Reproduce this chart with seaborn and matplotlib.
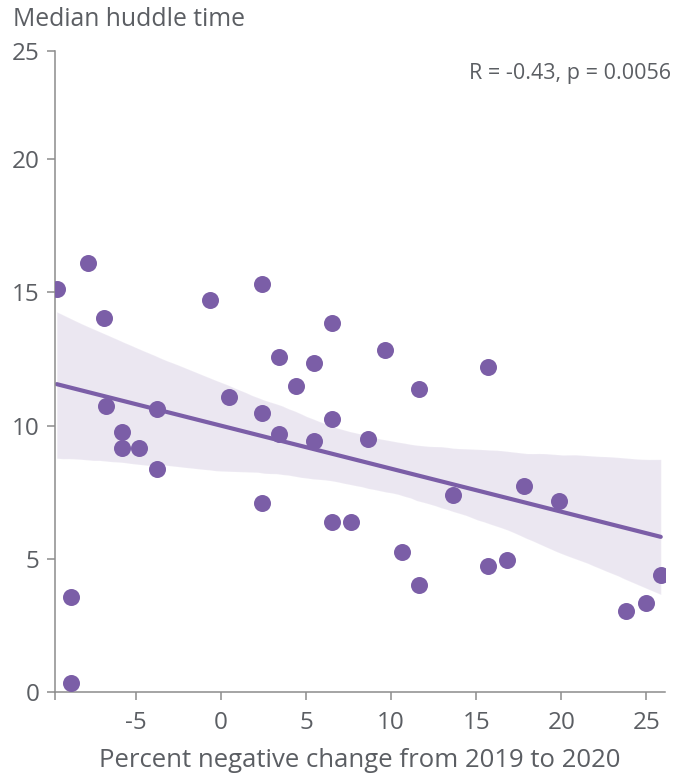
import matplotlib
matplotlib.use("Agg")
import matplotlib.pyplot as plt
import seaborn as sns
import pandas as pd

# Percent negative change (2019 -> 2020) and median huddle time per team
pct_change = [-9.65, -7.79, -6.85, -6.76, -5.79, -5.79, -4.79, -3.76, -3.76,
              -8.81, -8.81, -0.65, 0.49, 2.43, 2.43, 2.43, 3.39, 3.39, 4.41,
              5.49, 5.49, 6.51, 6.51, 6.51, 7.62, 8.62, 9.62, 10.66, 11.65,
              11.65, 13.66, 15.72, 15.72, 16.84, 17.84, 19.86, 23.82, 25.0,
              25.85]
huddle_time = [15.12, 16.09, 14.03, 10.75, 9.75, 9.17, 9.17, 10.62, 8.37,
               3.58, 0.35, 14.71, 11.07, 15.33, 10.48, 7.08, 12.56, 9.67,
               11.49, 12.35, 9.42, 13.85, 10.23, 6.38, 6.38, 9.50, 12.83,
               5.27, 11.37, 4.01, 7.39, 12.19, 4.73, 4.94, 7.73, 7.18, 3.03,
               3.35, 4.40]

x_ticks = [-5, 0, 5, 10, 15, 20, 25]
y_tick_labels = ["0", "5", "10", "15", "20", "25"]
stat_label = "R = -0.43, p = 0.0056"

df = pd.DataFrame({"change": pct_change, "huddle": huddle_time})

sns.set_theme(style="white")
plt.rcParams["font.family"] = ["Open Sans", "DejaVu Sans"]
plt.rcParams["axes.unicode_minus"] = False

purple = "#7B5EA7"
text_grey = "#5B5E63"
axis_grey = "#8C8C8C"

fig = plt.figure(figsize=(6.88, 7.74), dpi=100)
ax = fig.add_axes([55 / 688, 82 / 774, 610 / 688, 641.3 / 774])

sns.regplot(data=df, x="change", y="huddle", ax=ax, color=purple,
            ci=95, n_boot=1000, seed=3,
            scatter_kws={"s": 150, "alpha": 1, "linewidths": 0, "zorder": 3},
            line_kws={"linewidth": 3.0, "zorder": 2})

x_lo, x_hi = -9.75, 26.1
y_top = 24.07
ax.set_xlim(x_lo, x_hi)
ax.set_ylim(0, y_top)

ax.set_xticks(x_ticks)
ax.set_xticks([x_lo], minor=True)
ax.set_yticks([0, 5, 10, 15, 20, y_top])
ax.set_yticklabels(y_tick_labels)

for side in ("top", "right"):
    ax.spines[side].set_visible(False)
for side in ("left", "bottom"):
    ax.spines[side].set_color(axis_grey)
    ax.spines[side].set_linewidth(1.1)

ax.tick_params(axis="both", which="both", length=6, width=1.1,
               color=axis_grey, labelcolor=text_grey, labelsize=17.5,
               left=True, bottom=True)
ax.tick_params(axis="x", pad=8)
ax.tick_params(axis="y", pad=5)

ax.set_xlabel("Percent negative change from 2019 to 2020",
              fontsize=18.5, color=text_grey, labelpad=9)
ax.set_ylabel("")

fig.text(13 / 688, 1 - 20 / 774, "Median huddle time", fontsize=17.8,
         color=text_grey, ha="left", va="center")

fig.text(671 / 688, 1 - 73 / 774, stat_label,
         ha="right", va="center", fontsize=15.5, color=text_grey)

fig.savefig("out.png", dpi=100)
